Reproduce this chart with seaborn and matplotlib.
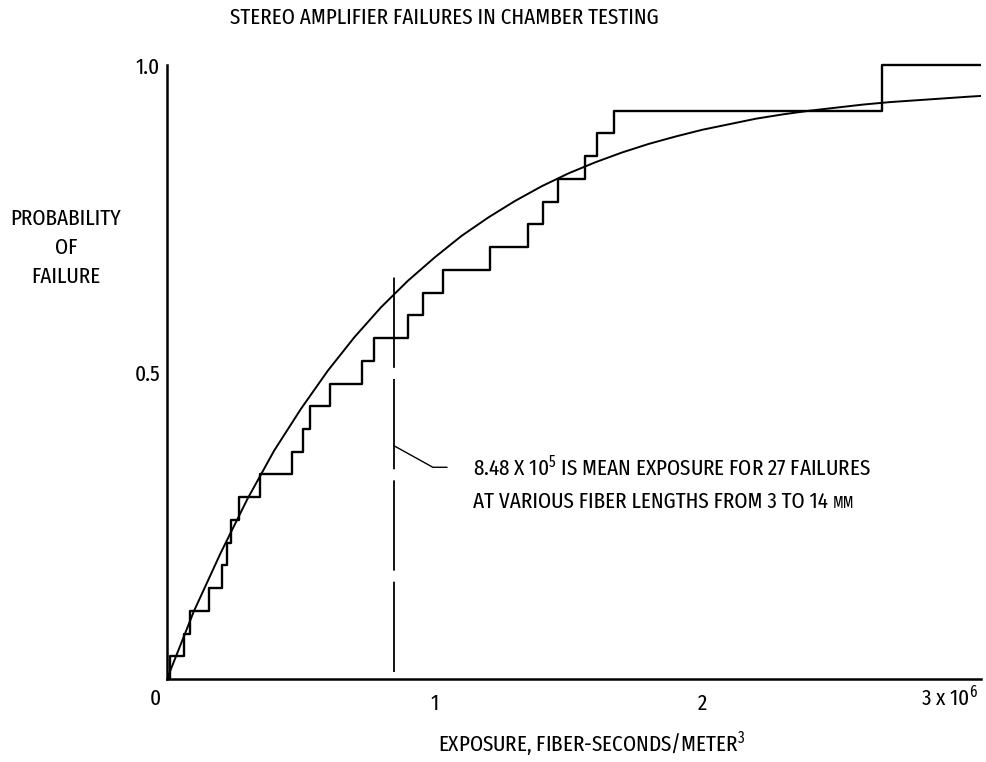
import matplotlib
matplotlib.use("Agg")
import matplotlib.pyplot as plt
import pandas as pd
import seaborn as sns

# ============================================================
# DATA
# ============================================================

# exposure at each of the 27 failures, fiber-seconds/m^3
FAILURE_EXPOSURE = [
    0.011e6, 0.064e6, 0.086e6, 0.157e6, 0.205e6, 0.224e6, 0.239e6,
    0.269e6, 0.347e6, 0.467e6, 0.508e6, 0.534e6, 0.609e6, 0.728e6,
    0.773e6, 0.900e6, 0.956e6, 1.031e6, 1.207e6, 1.349e6, 1.405e6,
    1.461e6, 1.561e6, 1.606e6, 1.670e6, 2.671e6, 2.671e6,
]

# fitted curve
CURVE_X = [
    0.0, 0.1e6, 0.2e6, 0.3e6, 0.4e6, 0.5e6, 0.6e6, 0.7e6, 0.8e6, 0.9e6,
    1.0e6, 1.1e6, 1.2e6, 1.3e6, 1.4e6, 1.5e6, 1.6e6, 1.7e6, 1.8e6, 1.9e6,
    2.0e6, 2.1e6, 2.2e6, 2.3e6, 2.4e6, 2.5e6, 2.6e6, 2.7e6, 2.8e6, 2.9e6,
    3.0e6, 3.04e6,
]
CURVE_Y = [
    0.000, 0.110, 0.205, 0.293, 0.372, 0.440, 0.502, 0.557, 0.606, 0.649,
    0.687, 0.722, 0.752, 0.779, 0.803, 0.824, 0.842, 0.858, 0.872, 0.884,
    0.895, 0.904, 0.913, 0.920, 0.926, 0.931, 0.936, 0.940, 0.943, 0.946,
    0.949, 0.950,
]

MEAN_EXPOSURE = 8.48e5

X_TICKS = [1e6, 2e6, 3e6]
X_TICK_LABELS = ["1", "2", ""]
Y_TICKS = [0.5, 1.0]
Y_TICK_LABELS = ["0.5", "1.0"]

X_MAX = 3.04e6

# ============================================================
# STYLE
# ============================================================

sns.set_style("white")
FONT = ["Fira Sans Extra Condensed", "DejaVu Sans"]
plt.rcParams["font.family"] = FONT
plt.rcParams["text.color"] = "black"
plt.rcParams["mathtext.fontset"] = "custom"
plt.rcParams["mathtext.rm"] = "Fira Sans Extra Condensed"
plt.rcParams["mathtext.it"] = "Fira Sans Extra Condensed"
plt.rcParams["lines.scale_dashes"] = False
FS = 16.5

# ============================================================
# STEP TABLE
# ============================================================

n = len(FAILURE_EXPOSURE)
steps = pd.DataFrame({
    "exposure": [0.0] + sorted(FAILURE_EXPOSURE) + [X_MAX],
    "prob": [0.0] + [(i + 1) / n for i in range(n)] + [1.0],
})
curve = pd.DataFrame({"exposure": CURVE_X, "prob": CURVE_Y})

# ============================================================
# FIGURE
# ============================================================

W, H = 986, 762
fig = plt.figure(figsize=(W / 100, H / 100), dpi=100)
ax = fig.add_axes([167 / W, 1 - 679 / H, (981 - 167) / W, (679 - 53) / H])

sns.lineplot(data=steps, x="exposure", y="prob", ax=ax, color="black",
             lw=1.7, estimator=None, sort=False, drawstyle="steps-post")
sns.lineplot(data=curve, x="exposure", y="prob", ax=ax, color="black",
             lw=1.4, estimator=None, sort=False)

# mean exposure marker
ax.vlines(MEAN_EXPOSURE, 0.011, 0.66, colors="black", lw=1.3,
          linestyles=(0, (65, 8)))
ax.annotate("", xy=(MEAN_EXPOSURE, 0.38), xytext=(1.046e6, 0.345),
            arrowprops=dict(arrowstyle="-", lw=1.0, color="black",
                            shrinkA=0, shrinkB=0,
                            connectionstyle="angle,angleA=0,angleB=-29,rad=0"))
ax.text(1.143e6, 0.345, "8.48 X 10$^5$ IS MEAN EXPOSURE FOR 27 FAILURES",
        fontsize=FS, va="center", ha="left")
t2 = ax.text(1.143e6, 0.288, "AT VARIOUS FIBER LENGTHS FROM 3 TO 14 ",
             fontsize=FS, va="center", ha="left")
ax.annotate("MM", xy=(1, 0.08), xycoords=t2, fontsize=FS * 0.72,
            va="bottom", ha="left")

# axes
ax.set_xlim(0, X_MAX)
ax.set_ylim(0, 1.02)
sns.despine(ax=ax)
for side in ["left", "bottom"]:
    ax.spines[side].set_linewidth(1.8)
    ax.spines[side].set_color("black")
ax.spines["left"].set_bounds(0, 1.0)

ax.set_xticks(X_TICKS)
ax.set_xticklabels(X_TICK_LABELS, fontsize=FS)
ax.set_yticks(Y_TICKS)
ax.set_yticklabels(Y_TICK_LABELS, fontsize=FS)
ax.tick_params(axis="both", direction="in", length=14, width=1.4,
               colors="black")
ax.tick_params(axis="x", pad=10)
ax.tick_params(axis="y", pad=5)
ax.set_xlabel("")
ax.set_ylabel("")

# free text around the axes
fig.text(155 / W, 1 - 699 / H, "0", fontsize=FS, ha="center", va="center")
fig.text(950 / W, 1 - 697 / H, "3 x 10$^6$", fontsize=FS, ha="center",
         va="center")
fig.text(444 / W, 1 - 18 / H, "STEREO AMPLIFIER FAILURES IN CHAMBER TESTING",
         fontsize=FS, ha="center", va="center")
fig.text(66 / W, 1 - 248 / H, "PROBABILITY\nOF\nFAILURE", fontsize=FS,
         ha="center", va="center", linespacing=1.45)
fig.text(592 / W, 1 - 744 / H, "EXPOSURE, FIBER-SECONDS/METER$^3$",
         fontsize=FS, ha="center", va="center")

fig.savefig("out.png", dpi=100, facecolor="white")
